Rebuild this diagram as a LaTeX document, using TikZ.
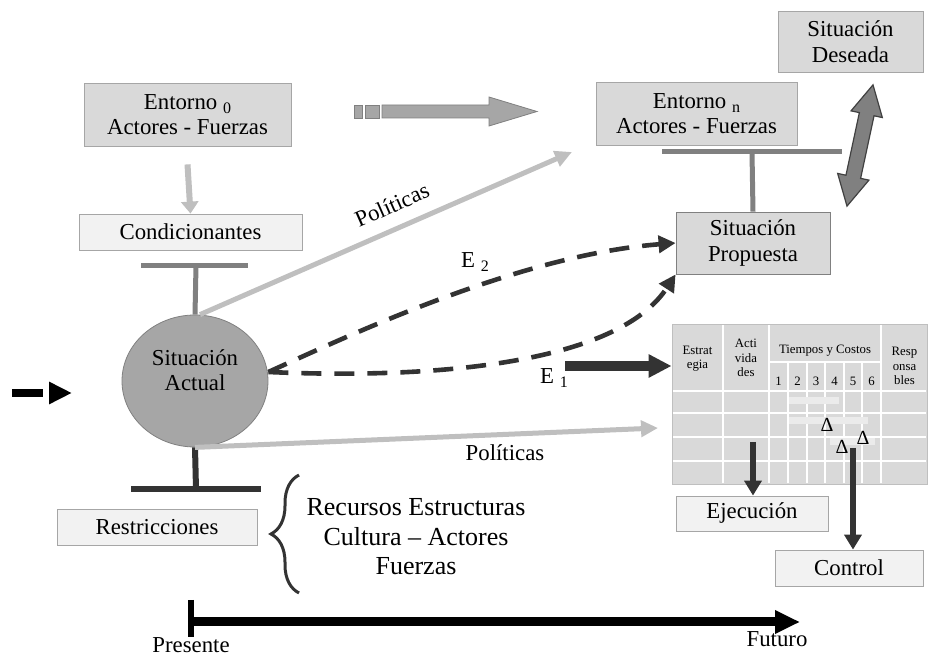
\documentclass[tikz,border=0pt]{standalone}
\usepackage{fontspec}
\setmainfont{Liberation Serif}
\usetikzlibrary{arrows.meta,shapes.geometric,decorations.pathreplacing}
\definecolor{blanco}{HTML}{FFFFFF}
\definecolor{gris0}{HTML}{F2F2F2}
\definecolor{gris1}{HTML}{D9D9D9}
\definecolor{gris2}{HTML}{BFBFBF}
\definecolor{gris3}{HTML}{A6A6A6}
\definecolor{gris4}{HTML}{808080}
\definecolor{gris5}{HTML}{333333}
\definecolor{gris6}{HTML}{EBEBEB}
\newcommand{\subind}[1]{\raisebox{-0.45ex}{\fontsize{8}{8}\selectfont #1}}
\tikzset{
	texto/.style={font=\fontsize{11.4}{12.8}\selectfont, align=center, inner sep=0pt},
	caja/.style={texto, draw=gris3, fill=gris1},
	cajaclara/.style={texto, draw=gris3, fill=gris0},
	tabtxt/.style={font=\fontsize{6.4}{7.2}\selectfont, align=center, inner sep=0pt},
	rejilla/.style={draw=blanco, line width=1pt},
	barra/.style={gris4, line width=2.5pt},
	barraosc/.style={gris5, line width=3pt},
	politica/.style={gris2, line width=2.5pt, -{Triangle[length=8.5pt,width=8pt]}},
	estrategia/.style={gris5, line width=2.3pt, dash pattern=on 10pt off 6.5pt, -{Triangle[length=8.5pt,width=8.5pt]}},
	flechaosc/.style={gris5, line width=2.7pt, -{Triangle[length=7.5pt,width=8.5pt]}}
}

\begin{document}
\begin{tikzpicture}[x=0.5pt, y=-0.5pt]
				\useasboundingbox (0,0) rectangle (928,657);
				% cajas
				\node[caja, minimum width=103.5pt, minimum height=31.5pt] (e0) at (187.5,114.5) {Entorno \subind{0}\\Actores - Fuerzas};
				\node[caja, minimum width=100.5pt, minimum height=31.5pt] (en) at (696.5,113.5) {Entorno \subind{n}\\Actores - Fuerzas};
				\node[caja, minimum width=72.5pt, minimum height=30.5pt] (deseada) at (850.5,41.5) {Situación\\Deseada};
				\node[caja, draw=gris4, minimum width=77pt, minimum height=31pt] (propuesta) at (753,243) {Situación\\Propuesta};
				\node[cajaclara, minimum width=111.5pt, minimum height=18pt] (cond) at (190.5,232) {Condicionantes};
				\node[cajaclara, minimum width=100pt, minimum height=18pt] (restr) at (157,527) {Restricciones};
				\node[cajaclara, minimum width=76pt, minimum height=17.5pt] (ejec) at (752,513.5) {Ejecución};
				\node[cajaclara, minimum width=74pt, minimum height=18pt] (control) at (849,568) {Control};
				\node[ellipse, draw=gris4, fill=gris3, minimum width=73pt, minimum height=66pt, inner sep=0pt] (actual) at (195,381) {};
				\node[texto] (actualtxt) at (195,370) {Situación\\Actual};

				% flecha gris superior
				\filldraw[fill=gris3, draw=gris4] (354,105) rectangle (362.5,118);
				\filldraw[fill=gris3, draw=gris4] (365,105) rectangle (379,118);
				\filldraw[fill=gris3, draw=gris4] (382,105) -- (489,105) -- (489,97) -- (537,111.5) -- (489,126) -- (489,118) -- (382,118) -- cycle;
				\draw[gris2, line width=3pt, -{Triangle[length=6pt,width=8.5pt]}] ([yshift=-9pt]e0.south) -- (cond.north);

				% T de condicionantes y restricciones
				\draw[barra] (141,266) -- (248,266);
				\draw[barra] (actual.north) -- (196,266);
				\draw[barraosc] (131,489) -- (261,489);
				\draw[barraosc] (actual.south) -- (196,489);
				\draw[barra] (662,152) -- (842,152);
				\draw[barra] (752,152) -- (propuesta.north);

				% politicas
				\coordinate (pol1) at (572,152);
				\coordinate (pol2) at (658,428);
				\draw[politica] ([xshift=2.5pt]actual.north) -- (pol1);
				\draw[politica] (actual.south) -- (pol2);
				\node[texto, rotate=23.7] (poltxt1) at (392,205) {Políticas};
				\node[texto] (poltxt2) at (505,453) {Políticas};

				% estrategias
				\draw[estrategia] ([yshift=4.5pt]actual.east) .. controls (350,335) and (520,255) .. (propuesta.west);
				\draw[estrategia] ([yshift=4.5pt]actual.east) .. controls (450,380) and (620,360) .. (propuesta.south west);
				\node[texto] (e2) at (475,262) {E \subind{2}};
				\node[texto] (e1) at (554,378) {E \subind{1}};

				% doble flecha
				\begin{scope}[shift={(860,145.5)}, rotate=77.9]
					\filldraw[fill=gris4, draw=black!75, line width=0.6pt] (62,0) -- (32,16) -- (32,7.5) -- (-32,7.5) -- (-32,16) -- (-62,0) -- (-32,-16) -- (-32,-7.5) -- (32,-7.5) -- (32,-16) -- cycle;
				\end{scope}

				% tabla
				\node[draw=gris2, fill=gris1, minimum width=127.5pt, minimum height=80pt, inner sep=0pt] (tabla) at (799.5,404) {};
				\foreach \x in {723,769,881}
					\draw[rejilla] (\x,325) -- (\x,483);
				\foreach \x in {788,807,825,844,862}
					\draw[rejilla] (\x,362) -- (\x,483);
				\draw[rejilla] (769,362) -- (881,362);
				\foreach \y in {391,413,437,461}
					\draw[rejilla] (673,\y) -- (926,\y);
				\fill[gris6] (789,397) rectangle (839,404);
				\fill[gris6] (789,417) rectangle (868,424);
				\fill[gris6] (830,438) rectangle (875,445);
				\node[tabtxt] (h1) at (697.5,358.5) {Estrat\\egia};
				\node[tabtxt] (h2) at (746,358) {Acti\\vida\\des};
				\node[tabtxt] (h3) at (825,351) {Tiempos y Costos};
				\node[tabtxt] (h4) at (904.5,366) {Resp\\onsa\\bles};
				\foreach \i/\x in {1/778.5,2/797.5,3/816,4/834.5,5/853,6/871.5}
					\node[tabtxt] (n\i) at (\x,381) {\i};
				\node[texto, font=\fontsize{10}{10}\selectfont] (d1) at (827,425) {Δ};
				\node[texto, font=\fontsize{10}{10}\selectfont] (d2) at (842,447) {Δ};
				\node[texto, font=\fontsize{10}{10}\selectfont] (d3) at (863,438) {Δ};

				\coordinate (e1ini) at (565,366);
				\draw[gris5, line width=4.75pt, -{Triangle[length=11.5pt,width=11pt]}] (e1ini) -- (e1ini -| tabla.west);
				\coordinate (ej1) at (753,442);
				\coordinate (ct1) at (853,448);
				\draw[flechaosc] (ej1) -- (ej1 |- ejec.north);
				\draw[flechaosc] (ct1) -- (ct1 |- control.north);

				% entrada
				\coordinate (inL) at (12,393);
				\coordinate (inR) at (72,393);
				\draw[black, line width=4pt, dash pattern=on 15.5pt off 3pt, -{Triangle[length=11.5pt,width=10.5pt]}] (inL) -- (inR);

				% restricciones
				\draw[gris5, line width=1.5pt, decorate, decoration={brace, amplitude=14pt}] (299,593) -- (299,475);
				\node[texto, font=\fontsize{13}{14.75}\selectfont] (recursos) at (416,537) {Recursos Estructuras\\Cultura – Actores\\Fuerzas};

				% eje de tiempo
				\coordinate (pres) at (191,622);
				\coordinate (fut) at (800,622);
				\draw[black, line width=3pt] (191,600) -- (191,637);
				\draw[black, line width=4.5pt, -{Triangle[length=12.5pt,width=11pt]}] (pres) -- (fut);
				\node[texto] (prestxt) at (191,645) {Presente};
				\node[texto] (futtxt) at (777,639) {Futuro};
			\end{tikzpicture}
\end{document}
